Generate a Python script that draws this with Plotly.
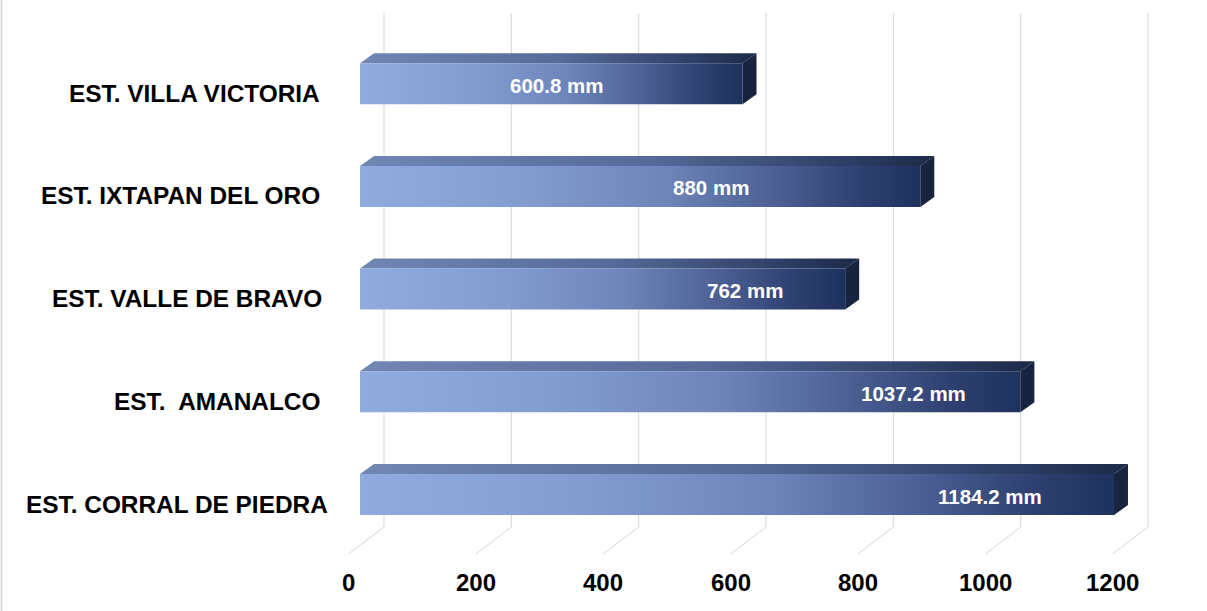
import plotly.graph_objects as go

# ---------------- data ----------------
categories = ["EST. CORRAL DE PIEDRA", "EST.  AMANALCO", "EST. VALLE DE BRAVO",
              "EST. IXTAPAN DEL ORO", "EST. VILLA VICTORIA"]
values = [1184.2, 1037.2, 762, 880, 600.8]
value_labels = ["1184.2 mm", "1037.2 mm", "762 mm", "880 mm", "600.8 mm"]
label_pos = [1007, 887, 623, 569, 326]          # where each value label sits (axis units)
tick_vals = [0, 200, 400, 600, 800, 1000, 1200]
tick_text = ["0", "200", "400", "600", "800", "1000", "1200"]

# ---------------- geometry (pixels) ----------------
W, H = 1207, 611
X0_PX = 348.5      # pixel of value 0 on the floor front edge
PXU = 0.6367       # pixels per value unit
Y0_PX = 494.5      # pixel of first bar front-face centre
ROW = 102.7        # pixels between rows
cat_right_px = [330, 322, 324, 322, 322]   # right edge of each category label

xrange_ = [-X0_PX / PXU, (W - X0_PX) / PXU]
yrange_ = [(Y0_PX - H) / ROW, Y0_PX / ROW]

def xu(px):
    return px / PXU

def yu(py):          # absolute pixel row -> y data
    return (Y0_PX - py) / ROW

BAR_SHIFT = xu(11.5)
HALF = 20.5 / ROW
DX = xu(14)
DY = 10 / ROW

front_scale = [[0, "#90acde"], [0.3, "#829cd0"], [0.55, "#6d84b9"],
               [0.75, "#4a5e92"], [0.9, "#2c3f6e"], [1, "#1f325e"]]
top_scale = [[0, "#7086b3"], [0.5, "#566b99"], [0.8, "#33446d"], [1, "#1c2a48"]]
SIDE = "#17233f"
GRID = "#d6d6d6"

fig = go.Figure()

# gridlines (back wall + floor)
gx, gy = [], []
for v in tick_vals:
    gx += [v + xu(35.5), v + xu(35.5), v, None]
    gy += [yu(13), yu(527), yu(554), None]
fig.add_trace(go.Scatter(x=gx, y=gy, mode="lines",
                         line=dict(color=GRID, width=1), hoverinfo="skip"))

# bars
for i, v in enumerate(values):
    x0 = BAR_SHIFT
    x1 = v + BAR_SHIFT
    yt = i + HALF
    yb = i - HALF
    # top face
    fig.add_trace(go.Scatter(
        x=[x0, x1, x1 + DX, x0 + DX, x0], y=[yt, yt, yt + DY, yt + DY, yt],
        mode="lines", fill="toself", line=dict(width=0),
        fillgradient=dict(type="horizontal", colorscale=top_scale, start=x0, stop=x1 + DX),
        hoverinfo="skip"))
    # side face
    fig.add_trace(go.Scatter(
        x=[x1, x1 + DX, x1 + DX, x1, x1], y=[yt, yt + DY, yb + DY, yb, yt],
        mode="lines", fill="toself", fillcolor=SIDE, line=dict(width=0),
        hoverinfo="skip"))
    # front face
    fig.add_trace(go.Scatter(
        x=[x0, x1, x1, x0, x0], y=[yt, yt, yb, yb, yt],
        mode="lines", fill="toself", line=dict(width=0),
        fillgradient=dict(type="horizontal", colorscale=front_scale, start=x0, stop=x1),
        hoverinfo="skip"))

annotations = []
LABEL_FONT = dict(family="Liberation Sans, Arial, sans-serif", size=24.4, color="black", weight="bold")
TICK_FONT = dict(family="Liberation Sans, Arial, sans-serif", size=24, color="black", weight="bold")
for i, c in enumerate(categories):
    annotations.append(dict(
        text=c.replace("  ", "\u00a0 "), xref="paper", yref="y",
        x=cat_right_px[i] / W, y=i - 9.5 / ROW, xanchor="right", yanchor="middle",
        showarrow=False, font=LABEL_FONT))
for v, t in zip(tick_vals, tick_text):
    annotations.append(dict(
        text=t, xref="x", yref="y", x=v, y=yu(582),
        xanchor="center", yanchor="middle", showarrow=False, font=TICK_FONT))
for i, (p, t) in enumerate(zip(label_pos, value_labels)):
    annotations.append(dict(
        text=t, xref="x", yref="y", x=p, y=i - 1.5 / ROW,
        xanchor="center", yanchor="middle", showarrow=False,
        font=dict(family="Liberation Sans Narrow, Arial Narrow, Liberation Sans, sans-serif",
                  size=20.5, color="white", weight="bold")))

fig.update_layout(
    width=W, height=H, margin=dict(l=0, r=0, t=0, b=0),
    paper_bgcolor="white", plot_bgcolor="white", showlegend=False,
    xaxis=dict(range=xrange_, visible=False, fixedrange=True),
    yaxis=dict(range=yrange_, visible=False, fixedrange=True),
    annotations=annotations,
    shapes=[dict(type="line", xref="paper", yref="paper", x0=1.5 / W, x1=1.5 / W,
                 y0=0, y1=1, line=dict(color="#cfcfcf", width=1.5))],
)

fig.write_html("out.html")
